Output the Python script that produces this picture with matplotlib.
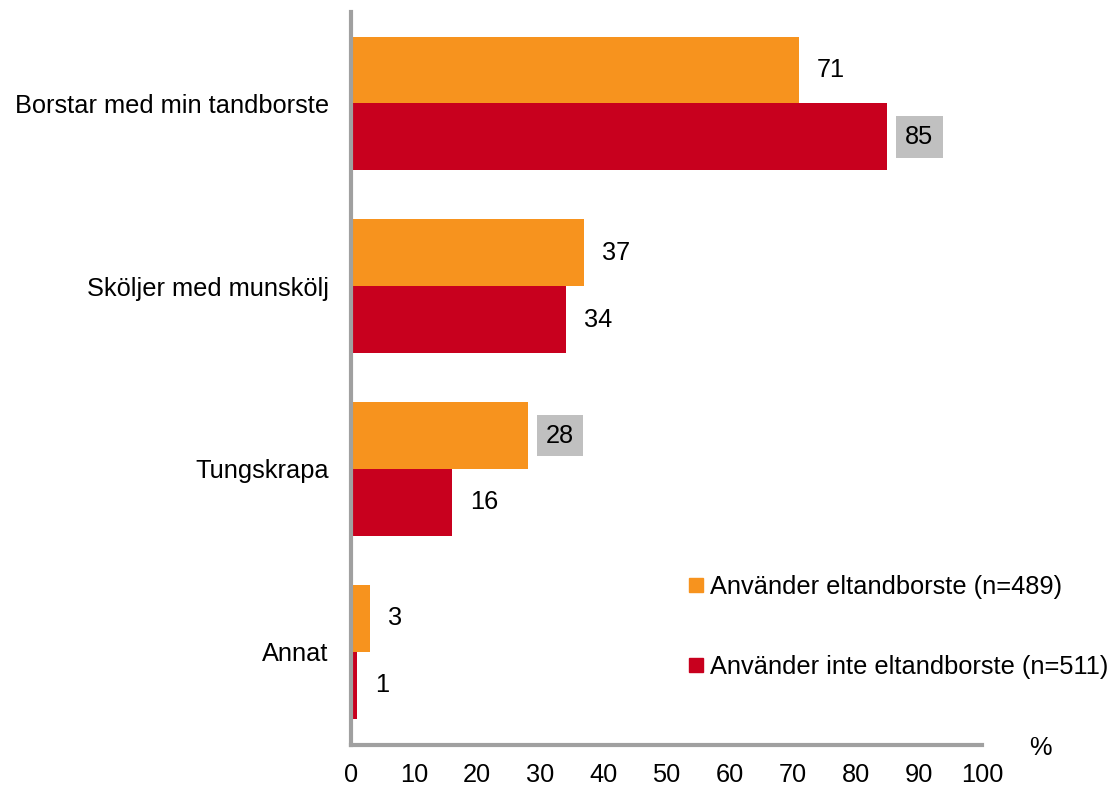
import matplotlib.pyplot as plt
from matplotlib.lines import Line2D

categories = ["Borstar med min tandborste", "Sköljer med munskölj", "Tungskrapa", "Annat"]
el_users = [71, 37, 28, 3]
non_el_users = [85, 34, 16, 1]
highlight_el = [False, False, True, False]
highlight_non = [True, False, False, False]
series_labels = ["Använder eltandborste (n=489)", "Använder inte eltandborste (n=511)"]
xticks = [0, 10, 20, 30, 40, 50, 60, 70, 80, 90, 100]

orange = "#F7931E"
red = "#C8001E"
spine_grey = "#A0A0A0"

plt.rcParams["font.family"] = ["Liberation Sans", "DejaVu Sans"]
plt.rcParams["font.size"] = 18.3

fig = plt.figure(figsize=(11.13, 7.86), dpi=100)
ax = fig.add_axes([0.3154, 0.0522, 0.5669, 0.9325])

h = 0.366
pos = list(range(len(categories)))
ax.barh([p - h / 2 for p in pos], el_users, height=h, color=orange)
ax.barh([p + h / 2 for p in pos], non_el_users, height=h, color=red)


def label(value, y, boxed):
    kw = {}
    if boxed:
        kw["bbox"] = dict(boxstyle="square,pad=0.35", fc="#C0C0C0", ec="none")
    ax.annotate(str(value), (value, y), xytext=(18, 0), textcoords="offset pixels",
                ha="left", va="center", color="black", **kw)


for p, v, b in zip(pos, el_users, highlight_el):
    label(v, p - h / 2, b)
for p, v, b in zip(pos, non_el_users, highlight_non):
    label(v, p + h / 2, b)

ax.set_xlim(0, 100)
ax.set_ylim(3.51, -0.5)
ax.set_yticks(pos)
ax.set_yticklabels(categories)
ax.set_xticks(xticks)
ax.tick_params(length=0)
ax.tick_params(axis="x", pad=13)
ax.tick_params(axis="y", pad=16)
for s in ["top", "right"]:
    ax.spines[s].set_visible(False)
for s in ["left", "bottom"]:
    ax.spines[s].set_color(spine_grey)
    ax.spines[s].set_linewidth(3)

fig.text(1040 / 1113, 1 - 748 / 786, "%", ha="center", va="center")

handles = [Line2D([], [], marker="s", linestyle="none", color=c, markersize=10)
           for c in (orange, red)]
ax.legend(handles, series_labels, loc="upper left", bbox_to_anchor=(677 / 1113, 1 - 562 / 786),
          bbox_transform=fig.transFigure, frameon=False, handlelength=0.5,
          handletextpad=0.3, labelspacing=2.2, borderpad=0)

fig.savefig("out.png", dpi=100)
